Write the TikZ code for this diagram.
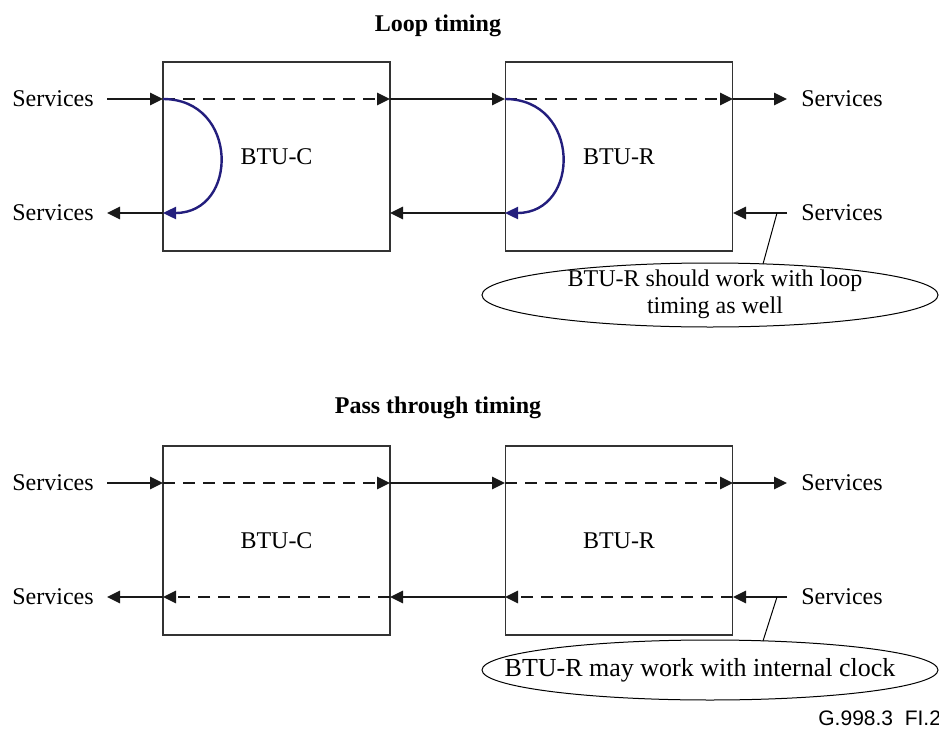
\documentclass[tikz,border=0pt]{standalone}
\usepackage{fontspec}
\setmainfont{Liberation Serif}
\newfontfamily\figfont{Liberation Sans}
\usetikzlibrary{arrows.meta,calc,shapes.geometric}

\definecolor{loopblue}{RGB}{35,30,125}
\tikzset{
  box/.style={draw=black!80, line width=0.6pt, minimum width=113.5pt, minimum height=94.5pt, font=\fontsize{12}{14}\selectfont},
  sig/.style={line width=1.4pt, draw=black!90, -{Triangle[length=6.5pt,width=6pt]}},
  sigdash/.style={sig, dash pattern=on 6pt off 4pt},
  loopsig/.style={line width=1.2pt, draw=loopblue, -{Triangle[length=6.5pt,width=6pt,fill=loopblue]}},
  lbl/.style={font=\fontsize{12}{14}\selectfont, inner sep=0pt},
  note/.style={ellipse, draw, line width=0.5pt, inner sep=0pt, minimum width=228pt},
  notetext/.style={align=center, inner sep=0pt, font=\fontsize{12}{13.5}\selectfont},
  title/.style={font=\fontsize{12}{14}\selectfont\bfseries}
}

\begin{document}
\begin{tikzpicture}[x=0.5pt,y=-0.5pt]
\useasboundingbox (0,0) rectangle (939,729);

\node[title] (loopt) at (438,26) {Loop timing};
\node[box] (btuc) at (276.5,156.5) {BTU-C};
\node[box] (btur) at (619,156.5) {BTU-R};
\node[lbl, anchor=west] (sin) at (12,99) {Services};
\node[lbl, anchor=west] (sout) at (12,213) {Services};
\node[lbl, anchor=west] (rout) at (801,99) {Services};
\node[lbl, anchor=west] (rin) at (801,213) {Services};
\coordinate (ci) at (163,99);
\coordinate (co) at (390,99);
\coordinate (ri) at (505,99);
\coordinate (ro) at (733,99);
\coordinate (cb) at (163,213);
\coordinate (cr) at (390,213);
\coordinate (rb) at (505,213);
\coordinate (rr) at (733,213);
\coordinate (tap) at (777,213);
\draw[sig] (107,99) -- (ci);
\draw[sigdash] (ci) -- (co);
\draw[sig] (co) -- (ri);
\draw[sigdash] (ri) -- (ro);
\draw[sig] (ro) -- (787,99);
\draw[sig] (cb) -- (107,213);
\draw[sig] (rb) -- (cr);
\draw[sig] (787,213) -- (rr);
\draw[loopsig] (ci) .. controls +(76,0) and +(76,0) .. (cb);
\draw[loopsig] (ri) .. controls +(76,0) and +(76,0) .. (rb);
\node[note, minimum height=32pt] (nloop) at (710,295) {};
\node[notetext] (nlooptxt) at (715,294) {BTU-R should work with loop\\timing as well};
\coordinate (tapend) at (763,264);
\draw[line width=0.5pt] (tap) -- (tapend);

\node[title] (passt) at (438,408) {Pass through timing};
\node[box] (btuc2) at (276.5,540.5) {BTU-C};
\node[box] (btur2) at (619,540.5) {BTU-R};
\node[lbl, anchor=west] (sin2) at (12,483) {Services};
\node[lbl, anchor=west] (sout2) at (12,597) {Services};
\node[lbl, anchor=west] (rout2) at (801,483) {Services};
\node[lbl, anchor=west] (rin2) at (801,597) {Services};
\coordinate (ci2) at (163,483);
\coordinate (co2) at (390,483);
\coordinate (ri2) at (505,483);
\coordinate (ro2) at (733,483);
\coordinate (cb2) at (163,597);
\coordinate (cr2) at (390,597);
\coordinate (rb2) at (505,597);
\coordinate (rr2) at (733,597);
\coordinate (tap2) at (777,597);
\draw[sig] (107,483) -- (ci2);
\draw[sigdash] (ci2) -- (co2);
\draw[sig] (co2) -- (ri2);
\draw[sigdash] (ri2) -- (ro2);
\draw[sig] (ro2) -- (787,483);
\draw[sig] (cb2) -- (107,597);
\draw[sigdash] (cr2) -- (cb2);
\draw[sig] (rb2) -- (cr2);
\draw[sigdash] (rr2) -- (rb2);
\draw[sig] (787,597) -- (rr2);
\node[note, minimum height=30pt] (nint) at (710,670) {};
\node[notetext, font=\fontsize{13}{15}\selectfont] (ninttxt) at (700,670) {BTU-R may work with internal clock};
\coordinate (tapend2) at (763,641);
\draw[line width=0.5pt] (tap2) -- (tapend2);

\node[font=\figfont\fontsize{10.5}{12}\selectfont, anchor=west, inner sep=0pt] (fig) at (818,718) {G.998.3\ \ FI.2};
\end{tikzpicture}
\end{document}
